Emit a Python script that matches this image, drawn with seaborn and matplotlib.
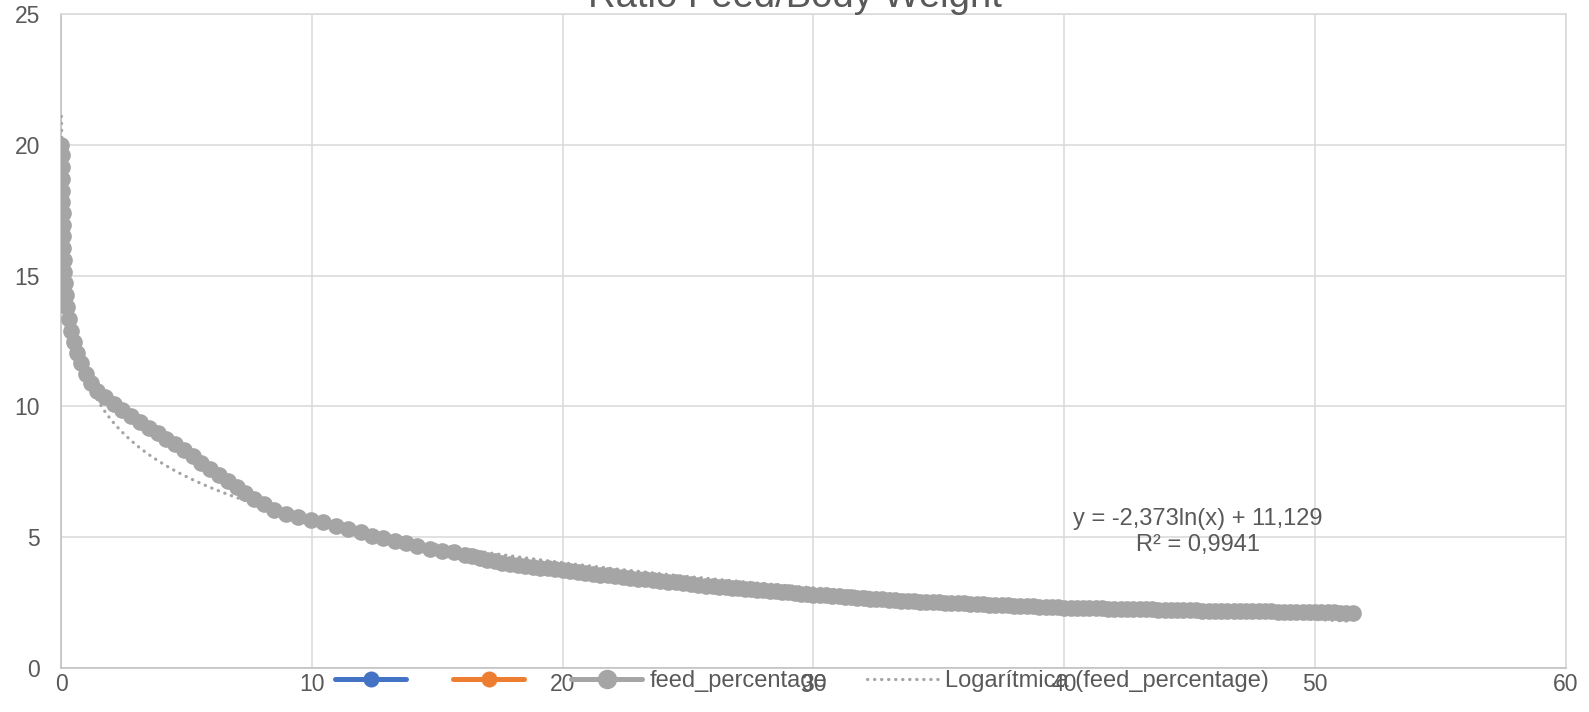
import numpy as np
import pandas as pd
import matplotlib.pyplot as plt
from matplotlib.lines import Line2D
import seaborn as sns

# body weight (x) and feed percentage (y)
weight = [
    0.015, 0.02, 0.03, 0.035, 0.04, 0.05, 0.06, 0.07, 0.08, 0.09,
    0.11, 0.13, 0.16, 0.2, 0.25, 0.32, 0.4, 0.5, 0.62, 0.8,
    0.98, 1.2, 1.45, 1.75, 2.1, 2.45, 2.8, 3.15, 3.5, 3.85,
    4.2, 4.55, 4.9, 5.25, 5.6, 5.95, 6.3, 6.65, 7.0, 7.35,
    7.7, 8.1, 8.5, 8.95, 9.45, 9.95, 10.45, 10.95, 11.45, 11.95,
    12.4, 12.85, 13.3, 13.75, 14.2, 14.7, 15.2, 15.65, 16.1, 16.4,
    16.7, 17.0, 17.3, 17.6, 17.9, 18.2, 18.5, 18.8, 19.1, 19.4,
    19.7, 20.0, 20.3, 20.6, 20.9, 21.2, 21.5, 21.8, 22.1, 22.4,
    22.7, 23.0, 23.3, 23.6, 23.9, 24.2, 24.5, 24.8, 25.1, 25.4,
    25.7, 26.0, 26.25, 26.5, 26.75, 27.0, 27.25, 27.5, 27.75, 28.0,
    28.25, 28.5, 28.75, 29.0, 29.25, 29.5, 29.75, 30.0, 30.25, 30.5,
    30.75, 31.0, 31.25, 31.5, 31.75, 32.0, 32.25, 32.5, 32.75, 33.0,
    33.25, 33.5, 33.75, 34.0, 34.25, 34.5, 34.75, 35.0, 35.25, 35.5,
    35.75, 36.0, 36.25, 36.5, 36.75, 37.0, 37.25, 37.5, 37.75, 38.0,
    38.25, 38.5, 38.75, 39.0, 39.25, 39.5, 39.75, 40.0, 40.25, 40.5,
    40.75, 41.0, 41.25, 41.5, 41.75, 42.0, 42.25, 42.5, 42.75, 43.0,
    43.25, 43.5, 43.75, 44.0, 44.25, 44.5, 44.75, 45.0, 45.25, 45.5,
    45.75, 46.0, 46.25, 46.5, 46.75, 47.0, 47.25, 47.5, 47.75, 48.0,
    48.25, 48.5, 48.75, 49.0, 49.25, 49.5, 49.75, 50.0, 50.25, 50.5,
    50.75, 51.0, 51.25, 51.5,
]
feed_percentage = [
    20.0, 19.6, 19.15, 18.7, 18.25, 17.8, 17.4, 16.95, 16.5, 16.05,
    15.6, 15.15, 14.7, 14.25, 13.8, 13.35, 12.9, 12.45, 12.05, 11.65,
    11.25, 10.88, 10.6, 10.37, 10.1, 9.87, 9.62, 9.42, 9.18, 8.97,
    8.75, 8.55, 8.32, 8.1, 7.85, 7.62, 7.38, 7.15, 6.9, 6.68,
    6.46, 6.25, 6.05, 5.9, 5.78, 5.67, 5.56, 5.44, 5.31, 5.18,
    5.05, 4.95, 4.86, 4.76, 4.65, 4.56, 4.48, 4.42, 4.33, 4.27,
    4.20, 4.14, 4.08, 4.02, 3.97, 3.93, 3.90, 3.87, 3.83, 3.80,
    3.77, 3.74, 3.70, 3.67, 3.63, 3.60, 3.56, 3.53, 3.50, 3.46,
    3.43, 3.41, 3.38, 3.35, 3.32, 3.30, 3.27, 3.23, 3.20, 3.17,
    3.14, 3.12, 3.10, 3.08, 3.06, 3.04, 3.02, 3.00, 2.98, 2.96,
    2.94, 2.92, 2.90, 2.88, 2.86, 2.84, 2.82, 2.80, 2.785, 2.77,
    2.75, 2.73, 2.715, 2.70, 2.68, 2.66, 2.645, 2.63, 2.615, 2.60,
    2.585, 2.57, 2.56, 2.55, 2.535, 2.52, 2.51, 2.50, 2.49, 2.48,
    2.47, 2.46, 2.45, 2.44, 2.43, 2.42, 2.41, 2.40, 2.39, 2.38,
    2.37, 2.36, 2.35, 2.34, 2.33, 2.32, 2.31, 2.30, 2.295, 2.29,
    2.285, 2.28, 2.275, 2.27, 2.265, 2.26, 2.255, 2.25, 2.245, 2.24,
    2.235, 2.23, 2.225, 2.22, 2.215, 2.21, 2.205, 2.20, 2.195, 2.19,
    2.187, 2.185, 2.182, 2.18, 2.175, 2.17, 2.167, 2.165, 2.162, 2.16,
    2.155, 2.15, 2.147, 2.145, 2.142, 2.14, 2.135, 2.13, 2.125, 2.12,
    2.115, 2.11, 2.105, 2.10,
]

# coefficients shown on the chart for the log trendline
trend_slope = -2.373
trend_intercept = 11.129
trend_r2 = 0.9941

x_ticks = [0, 10, 20, 30, 40, 50, 60]
y_ticks = [0, 5, 10, 15, 20, 25]

gray = "#A5A5A5"
text_col = "#595959"
grid_col = "#D9D9D9"

df = pd.DataFrame({"weight": weight, "feed_percentage": feed_percentage})

sns.set_theme(style="white")
plt.rcParams["font.family"] = ["Liberation Sans", "DejaVu Sans"]

fig = plt.figure(figsize=(15.89, 7.12), dpi=100)
ax = fig.add_axes([0.0384, 0.0621, 0.9471, 0.918])

sns.lineplot(data=df, x="weight", y="feed_percentage", ax=ax, color=gray,
             linewidth=2.8, marker="o", markersize=12, markeredgewidth=0,
             estimator=None, sort=False, legend=False, zorder=3)

# logarithmic trendline over the data range
xt = np.linspace(df["weight"].min(), df["weight"].max(), 600)
ax.plot(xt, trend_slope * np.log(xt) + trend_intercept, color=gray,
        linewidth=2.3, linestyle=(0, (0.1, 2.1)), dash_capstyle="round",
        zorder=4)

ax.set_xlim(0, 60)
ax.set_ylim(0, 25)
ax.set_xticks(x_ticks)
ax.set_yticks(y_ticks)
ax.set_xlabel("")
ax.set_ylabel("")
ax.grid(True, color=grid_col, linewidth=1.1)
ax.set_axisbelow(True)
ax.tick_params(axis="both", length=0, labelsize=16.5, labelcolor=text_col)
ax.tick_params(axis="y", pad=15)
ax.tick_params(axis="x", pad=4)
for side in ["left", "bottom"]:
    ax.spines[side].set_color("#BFBFBF")
    ax.spines[side].set_linewidth(1.1)
for side in ["top", "right"]:
    ax.spines[side].set_color(grid_col)
    ax.spines[side].set_linewidth(1.1)

eq = "y = {:.3f}ln(x) + {:.3f}\nR² = {:.4f}".format(
    trend_slope, trend_intercept, trend_r2).replace(".", ",")
fig.text(0.754, 0.2528, eq, ha="center", va="center", fontsize=17,
         color=text_col, linespacing=1.2)

fig.text(0.5003, 0.990, "Ratio Feed/Body Weight", ha="center", va="baseline",
         fontsize=27.5, color=text_col)

handles = [
    Line2D([], [], color="#4472C4", linewidth=3.6, marker="o", markersize=10.5),
    Line2D([], [], color="#ED7D31", linewidth=3.6, marker="o", markersize=10.5),
    Line2D([], [], color=gray, linewidth=3.6, marker="o", markersize=13),
    Line2D([], [], color=gray, linewidth=2.3, linestyle=(0, (0.1, 2.1)),
           dash_capstyle="round"),
]
labels = ["", "", "feed_percentage", "Logarítmica (feed_percentage)"]
fig.legend(handles, labels, loc="center", bbox_to_anchor=(0.5047, 0.0435),
           ncol=4, frameon=False, handlelength=3.0, handletextpad=0.3,
           columnspacing=1.7, labelcolor=text_col, fontsize=17)

fig.savefig("out.png", dpi=100)
